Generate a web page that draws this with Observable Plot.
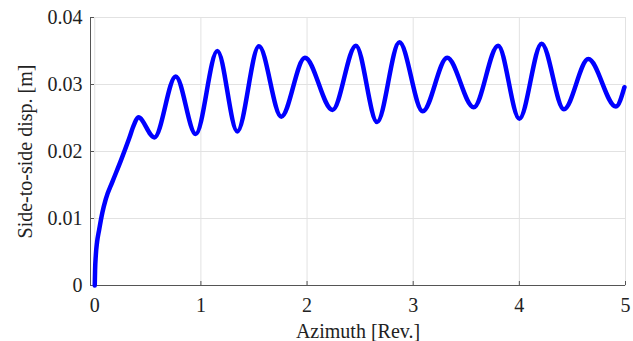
<!DOCTYPE html>
<html><head><meta charset="utf-8">
<script src="https://cdn.jsdelivr.net/npm/d3@7"></script>
<script src="https://cdn.jsdelivr.net/npm/@observablehq/plot@0.6"></script>
<style>
body{margin:0;background:#fff}
#chart svg, #chart svg text, #chart svg g {font-family: "Liberation Serif", "Times New Roman", serif !important;}
</style>
</head><body><div id="chart"></div>
<script>
// Azimuth [Rev.] and side-to-side displacement [m]
const azimuth = [0, 0.003, 0.01, 0.022, 0.04, 0.072, 0.104, 0.167, 0.245, 0.323, 0.37, 0.41, 0.562, 0.763, 0.951, 1.155, 1.343, 1.547, 1.757, 1.98, 2.24, 2.46, 2.66, 2.87, 3.09, 3.32, 3.57, 3.80, 4.00, 4.21, 4.42, 4.65, 4.91, 4.99];
const disp    = [0, 0.0022, 0.0045, 0.0065, 0.0082, 0.0109, 0.0129, 0.0155, 0.0186, 0.0219, 0.0240, 0.0251, 0.0221, 0.0312, 0.0226, 0.0350, 0.0230, 0.0357, 0.0252, 0.0340, 0.0262, 0.0358, 0.0244, 0.0363, 0.0260, 0.0340, 0.0266, 0.0358, 0.0249, 0.0361, 0.0263, 0.0338, 0.0267, 0.0296];
const xTicks = [0, 1, 2, 3, 4, 5];
const yTicks = [0, 0.01, 0.02, 0.03, 0.04];
const xDomain = [-0.04, 5];
const yDomain = [0, 0.04];

const data = azimuth.map((x, i) => ({x, y: disp[i]}));
const axisColor = "#555";
const gridColor = "#e2e2e2";
const serif = "'Liberation Serif', 'Times New Roman', serif";

const chart = Plot.plot({
  width: 633, height: 341,
  marginLeft: 90, marginRight: 8, marginTop: 17, marginBottom: 56,
  style: {fontSize: "20px", color: "#222", background: "#fff", fontFamily: serif},
  x: {domain: xDomain},
  y: {domain: yDomain},
  marks: [
    Plot.gridX(xTicks, {stroke: gridColor, strokeOpacity: 1}),
    Plot.gridY(yTicks, {stroke: gridColor, strokeOpacity: 1}),
    Plot.frame({stroke: gridColor}),
    Plot.axisX(xTicks, {tickSize: 0, tickPadding: 12, fontFamily: "Liberation Serif", label: "Azimuth [Rev.]", labelAnchor: "center", labelArrow: "none", labelOffset: 52}),
    Plot.axisY(yTicks, {tickSize: 0, tickPadding: 8, fontFamily: "Liberation Serif", tickFormat: d => d === 0 ? "0" : d.toFixed(2), label: "Side-to-side disp. [m]", labelAnchor: "center", labelArrow: "none", labelOffset: 73}),
    Plot.ruleY([yDomain[0]], {stroke: axisColor}),
    Plot.ruleX([xDomain[0]], {stroke: axisColor}),
    Plot.tickX(xTicks, {x: d => d, insetTop: 264, stroke: axisColor}),
    Plot.tickY(yTicks, {y: d => d, insetRight: 531, stroke: axisColor}),
    Plot.line(data, {x: "x", y: "y", stroke: "#0000ff", strokeWidth: 4.5, curve: "monotone-x", strokeLinecap: "round"})
  ]
});
function applySerif() {
  chart.setAttribute("font-family", "Liberation Serif");
  chart.style.setProperty("font-family", serif, "important");
  chart.querySelectorAll("g, text, tspan").forEach(el => {
    el.setAttribute("font-family", "Liberation Serif");
    el.style.setProperty("font-family", serif, "important");
  });
}
applySerif();
document.getElementById("chart").append(chart);
applySerif();
requestAnimationFrame(applySerif);
</script>
</body></html>
